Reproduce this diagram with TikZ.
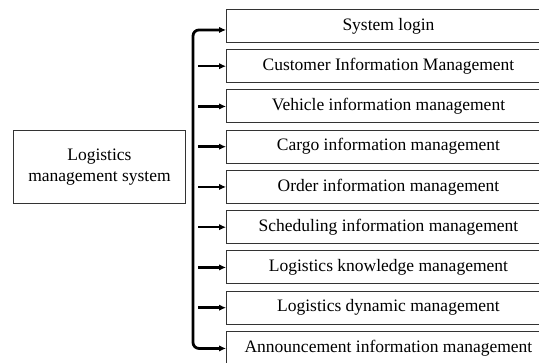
\documentclass[tikz,border=0pt]{standalone}
\usepackage{fontspec}
\setmainfont{Liberation Serif}
\usetikzlibrary{arrows.meta}
\begin{document}
\begin{tikzpicture}[x=1pt,y=-1pt,
  item/.style={draw=black!80, line width=0.9pt, minimum width=324pt, minimum height=33pt,
    anchor=north west, inner sep=0pt, font=\fontsize{17.5}{20.5}\selectfont},
  rootbox/.style={draw=black!80, line width=0.9pt, minimum width=172pt, minimum height=73pt,
    anchor=north west, align=center, inner sep=0pt, font=\fontsize{17.5}{21}\selectfont},
  arr/.style={line width=2.6pt, -{Latex[length=7pt,width=6.5pt]}},
  spine/.style={line width=2.8pt, rounded corners=6pt, -{Latex[length=7pt,width=6.5pt]}}]
\useasboundingbox (0,0) rectangle (539,363);
\begin{scope}
\clip (0,0) rectangle (539,363);
% root of the tree
\node[rootbox] (root) at (13,130) {Logistics\\management system};
% the nine modules
\node[item] (b1) at (226,9)      {System login};
\node[item] (b2) at (226,49.25)  {Customer Information Management};
\node[item] (b3) at (226,89.5)   {Vehicle information management};
\node[item] (b4) at (226,129.75) {Cargo information management};
\node[item] (b5) at (226,170)    {Order information management};
\node[item] (b6) at (226,210.25) {Scheduling information management};
\node[item] (b7) at (226,250.5)  {Logistics knowledge management};
\node[item] (b8) at (226,290.75) {Logistics dynamic management};
\node[item] (b9) at (226,331)    {Announcement information management};
% spine with its two bent ends
\coordinate (mid) at (193,185);
\draw[spine] (mid) |- ([yshift=-4pt]b1.west);
\draw[spine] (mid) |- ([yshift=-0.5pt]b9.west);
% short arrows into the middle modules
\foreach \b in {b2,b3,b4,b5,b6,b7,b8}
  \draw[arr] ([xshift=-28pt]\b.west) -- (\b.west);
\end{scope}
\end{tikzpicture}
\end{document}
